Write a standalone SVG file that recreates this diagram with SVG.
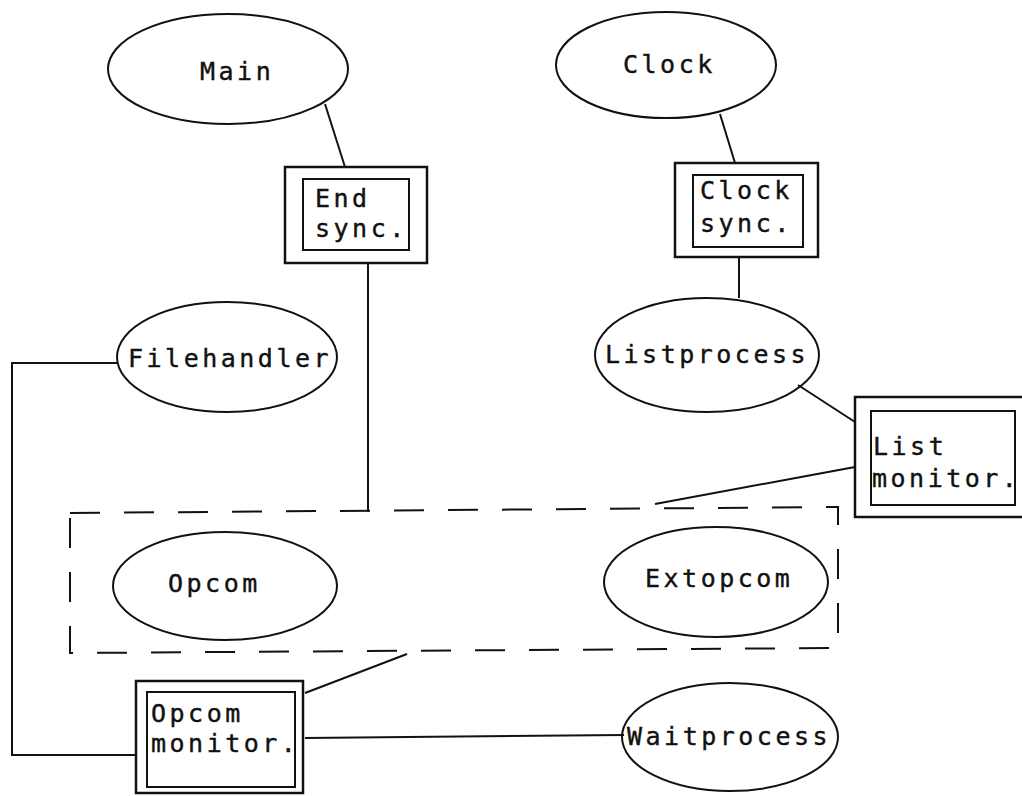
<svg xmlns="http://www.w3.org/2000/svg" width="1022" height="796" viewBox="0 0 1022 796">
<style>
.bg{fill:#fff}
.ell{fill:none;stroke:#111;stroke-width:2}
.box{fill:none;stroke:#111;stroke-width:2.5}
.inner{fill:none;stroke:#111;stroke-width:2}
.ln{fill:none;stroke:#111;stroke-width:2}
.dash{fill:none;stroke:#111;stroke-width:2;stroke-dasharray:30 24}
.t{font-family:"DejaVu Sans Mono","Liberation Mono",monospace;font-size:25px;letter-spacing:3.5px;fill:#111;stroke:#111;stroke-width:0.4}
</style>
<rect class="bg" x="0" y="0" width="1022" height="796"/>
<g id="connectors">
<path class="ln" d="M325,104 L345,167"/>
<path class="ln" d="M368,263 L368,512"/>
<path class="ln" d="M720,114 L735,163"/>
<path class="ln" d="M739,257 L739,298"/>
<path class="ln" d="M798,385 L855,422"/>
<path class="ln" d="M855,467 L655,504"/>
<path class="ln" d="M117,363 L12,363 L12,755 L137,755"/>
<path class="ln" d="M305,693 L407,654"/>
<path class="ln" d="M305,738 L624,735"/>
</g>
<g id="group-box">
<path class="dash" d="M70,513 L838,507 L838,648 L70,653 Z"/>
</g>
<g id="main">
<ellipse class="ell" cx="228" cy="69" rx="120" ry="55"/>
<text class="t" x="200" y="80">Main</text>
</g>
<g id="clock">
<ellipse class="ell" cx="666" cy="65" rx="110" ry="53"/>
<text class="t" x="623" y="73">Clock</text>
</g>
<g id="end-sync">
<rect class="box" x="285" y="167" width="142" height="96"/>
<rect class="inner" x="303" y="179" width="106" height="71"/>
<text class="t" x="315" y="207">End</text>
<text class="t" x="315" y="237">sync.</text>
</g>
<g id="clock-sync">
<rect class="box" x="675" y="163" width="143" height="94"/>
<rect class="inner" x="693" y="175" width="110" height="72"/>
<text class="t" x="700" y="199">Clock</text>
<text class="t" x="700" y="232">sync.</text>
</g>
<g id="filehandler">
<ellipse class="ell" cx="227" cy="357" rx="110" ry="55"/>
<text class="t" x="128" y="367">Filehandler</text>
</g>
<g id="listprocess">
<ellipse class="ell" cx="707" cy="355" rx="112" ry="57"/>
<text class="t" x="605" y="363">Listprocess</text>
</g>
<g id="list-monitor">
<rect class="box" x="855" y="397" width="170" height="120"/>
<rect class="inner" x="871" y="411" width="144" height="94"/>
<text class="t" x="873" y="455">List</text>
<text class="t" x="872" y="487">monitor.</text>
</g>
<g id="opcom">
<ellipse class="ell" cx="225" cy="586" rx="112" ry="54"/>
<text class="t" x="168" y="592">Opcom</text>
</g>
<g id="extopcom">
<ellipse class="ell" cx="716" cy="582" rx="112" ry="55"/>
<text class="t" x="645" y="587">Extopcom</text>
</g>
<g id="opcom-monitor">
<rect class="box" x="136" y="681" width="167" height="112"/>
<rect class="inner" x="147" y="692" width="148" height="95"/>
<text class="t" x="151" y="722">Opcom</text>
<text class="t" x="151" y="752">monitor.</text>
</g>
<g id="waitprocess">
<ellipse class="ell" cx="730" cy="737" rx="108" ry="54"/>
<text class="t" x="627" y="745">Waitprocess</text>
</g>
</svg>
